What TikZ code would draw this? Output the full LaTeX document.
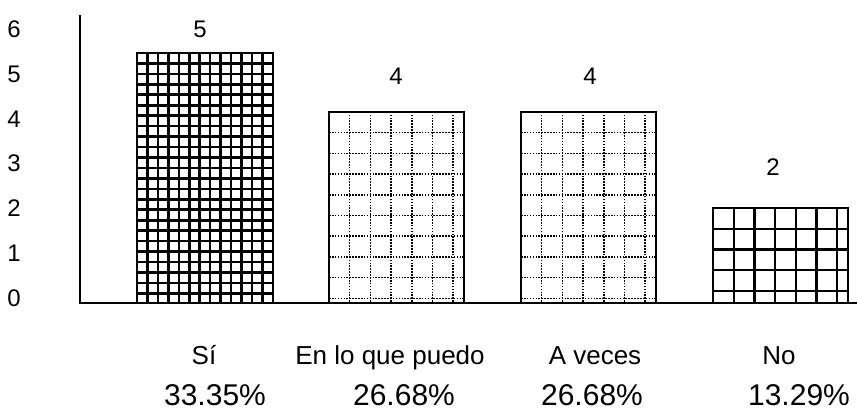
\documentclass[tikz,border=0pt]{standalone}
\usepackage{fontspec}
\setmainfont{Liberation Sans}
\tikzset{axisline/.style={line width=1.6pt},
		 bar/.style={draw,line width=1.8pt},
		 densegrid/.style={line width=2.6pt,step=10.45pt},
		 dotgrid/.style={line width=1.5pt,dash pattern=on 1.6pt off 1.3pt,step=20.7pt},
		 solidgrid/.style={line width=2.2pt,step=20.7pt}}
\tikzset{ticklabel/.style={font=\fontsize{24}{26}\selectfont,inner sep=0pt},
		 valuelabel/.style={font=\fontsize{24}{26}\selectfont,inner sep=0pt},
		 catlabel/.style={font=\fontsize{26}{30}\selectfont,anchor=base,inner sep=0pt},
		 pctlabel/.style={font=\fontsize{30}{34}\selectfont,anchor=base,inner sep=0pt}}

\begin{document}
\begin{tikzpicture}[x=1pt,y=1pt]
	\useasboundingbox (0,0) rectangle (857,413);

	% bars: left/right/top, pattern hung from the top left corner
	\foreach \xa/\xb/\yt/\pat in {137/273/360/densegrid,329/464/301/dotgrid,521/656/301/dotgrid,713/848/205/solidgrid}
	{
		\begin{scope}
			\clip (\xa,110) rectangle (\xb,\yt);
			\draw[\pat,shift={(\xa,\yt)}] (0,-300) grid (200,0);
		\end{scope}
		\draw[bar] (\xa,110) rectangle (\xb,\yt);
	}

	\coordinate (origin) at (80,110);
	\coordinate (ytop) at (80,398);
	\coordinate (xend) at (857,110);
	\draw[axisline] (ytop) -- (origin) -- (xend);

	\foreach \k in {0,...,6}
		\node[ticklabel] (tick\k) at (14,115+44.8*\k) {\k};

	\foreach \name/\x/\y/\v in {si/200/384/5,puedo/396/337/4,veces/590/337/4,no/773/246/2}
		\node[valuelabel] (val-\name) at (\x,\y) {\v};

	\foreach \name/\x/\txt in {si/204/Sí,puedo/390/En lo que puedo,veces/595/A veces,no/779/No}
		\node[catlabel] (cat-\name) at (\x,49) {\txt};

	\foreach \name/\x/\p in {si/215/33.35,puedo/404/26.68,veces/592/26.68,no/799/13.29}
		\node[pctlabel] (pct-\name) at (\x,8) {\p\%};
\end{tikzpicture}
\end{document}
